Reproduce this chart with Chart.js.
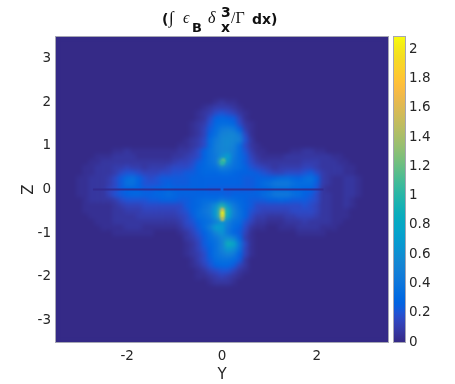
<!DOCTYPE html>
<html><head><meta charset="utf-8">
<script src="https://cdn.jsdelivr.net/npm/chart.js@4"></script>
<style>
html,body{margin:0;padding:0;background:#fff;width:455px;height:384px;overflow:hidden}
canvas{position:absolute;left:0;top:0}
#title{position:absolute;left:161px;top:9px;white-space:nowrap;color:#111;font:bold 14px "DejaVu Sans";line-height:20px}
#title span{position:absolute;top:0}
#title .m{font:italic 15px "Liberation Serif"}
#title .r{font:normal 15px "Liberation Serif"}
</style></head><body>
<canvas id="c1" width="455" height="384"></canvas>
<canvas id="c2" width="455" height="384"></canvas>
<div id="title"><span style="left:1px">(</span><span class="r" style="left:8px;font-size:17px;top:-1px">∫</span><span class="m" style="left:22px;font-size:16px">ϵ</span><span style="left:31px;top:9px;font-size:13px">B</span><span class="m" style="left:47px;font-size:16px">δ</span><span style="left:60px;top:-7px">3</span><span style="left:60px;top:8px">x</span><span class="r" style="left:70px;font-size:16px">/Γ</span><span style="left:91px">dx)</span></div>
<script>
const rangeY = [-3.5, 3.5];
const rangeZ = [-3.5, 3.5];
const colorMax = 2.083;
const tickY = [-2, 0, 2];
const tickZ = [-3, -2, -1, 0, 1, 2, 3];
const tickC = [0, 0.2, 0.4, 0.6, 0.8, 1, 1.2, 1.4, 1.6, 1.8, 2];
const firstY = -3, firstZ = 2.25, cell = 0.125;
// value × 100 per row (top to bottom); rowStart = index of first listed column
const rowStart = [0,0,22,20,20,19,19,19,18,18,17,6,3,0,0,0,0,0,0,0,0,0,0,0,0,0,0,17,18,18,18,18,19,19,20,21,0];
const rowVals = [
[],
[],
[1,3,5,4,2],
[1,3,6,9,11,9,6,3,1],
[3,6,11,17,20,18,14,7,3],
[1,4,8,18,26,30,28,22,12,4,1],
[2,5,10,20,30,34,34,30,18,7,2],
[3,7,12,22,34,42,46,44,28,11,3],
[1,4,8,14,28,38,50,54,54,44,15,4],
[2,5,9,16,32,44,52,56,54,50,20,5,1],
[2,4,7,11,18,34,46,54,56,48,34,16,6,2],
[3,4,5,4,3,2,2,2,2,2,3,5,7,10,16,28,38,46,52,54,46,32,20,10,4,2,1,0,0,0,2,4,5,5,4,3,1],
[2,3,4,5,6,6,5,4,4,3,3,3,4,5,7,9,12,16,26,36,44,58,72,42,32,22,13,7,4,3,3,4,5,6,7,8,8,7,6,5,4,3,1],
[0,1,3,4,5,6,6,6,8,7,6,5,5,5,6,8,10,12,14,17,24,30,36,42,110,62,40,32,24,17,11,7,5,5,6,8,8,8,10,10,9,7,6,5,4,3,1,0,0],
[0,2,4,5,6,7,9,11,13,11,9,8,9,10,11,13,15,16,18,20,26,30,34,38,48,44,38,32,26,21,17,13,9,8,9,10,11,11,13,14,11,8,6,5,5,4,3,0,0],
[1,3,4,5,6,8,11,15,20,20,16,12,12,14,16,18,20,21,22,23,27,29,31,31,32,32,30,28,25,25,23,19,15,13,14,15,16,16,20,23,18,9,5,5,5,4,4,1,0],
[2,4,5,5,7,10,16,24,34,36,26,19,18,20,22,23,24,24,24,25,27,27,27,27,27,27,27,25,23,23,25,26,27,29,32,34,30,26,32,36,26,11,5,4,4,5,5,2,0],
[2,4,5,5,7,11,17,24,36,36,28,21,20,21,23,26,24,24,24,25,27,27,26,26,27,26,26,26,24,24,28,32,38,42,42,42,38,32,34,34,24,9,5,4,4,5,5,2,0],
[2,4,5,5,7,12,17,22,26,27,27,24,24,26,27,29,27,26,26,26,27,27,24,24,24,23,24,24,24,24,26,28,31,33,33,33,31,29,28,26,19,8,4,4,4,5,5,2,0],
[2,4,5,5,8,13,19,24,27,31,29,28,28,30,31,33,31,27,27,27,27,28,26,26,26,24,26,26,27,26,28,32,38,42,44,44,38,32,27,24,17,8,5,4,4,5,5,2,0],
[1,4,5,5,6,8,11,15,19,21,21,21,23,24,25,25,25,23,24,27,30,32,32,34,40,36,33,30,27,24,24,24,26,28,29,27,23,22,22,21,16,8,5,4,4,5,4,1,0],
[0,3,4,4,4,4,6,10,12,14,14,15,17,18,18,18,18,18,22,27,31,36,42,60,95,62,42,33,28,22,18,17,17,17,17,17,18,18,20,18,14,8,5,4,4,5,3,0,0],
[0,2,3,4,4,3,5,8,10,11,11,12,14,14,14,14,14,16,20,27,34,40,46,70,130,85,48,36,26,20,15,13,13,13,13,13,15,17,18,16,12,7,5,4,4,3,1,0,0],
[0,1,2,3,4,4,5,6,7,8,9,9,9,9,9,10,10,12,18,24,32,38,42,65,130,80,46,36,25,17,11,9,8,8,8,10,11,13,14,12,9,6,5,4,4,2,0,0,0],
[0,0,1,3,4,4,5,5,6,6,6,6,5,5,5,6,6,9,15,21,27,34,38,46,62,48,38,34,21,13,7,5,4,4,4,5,7,8,9,8,6,6,5,4,3,1,0,0,0],
[0,0,0,0,2,3,4,4,5,5,5,4,3,3,3,3,3,5,12,18,24,32,46,72,68,44,32,28,17,8,3,2,1,1,2,3,4,5,5,5,5,4,3,2,1],
[0,0,0,0,0,1,2,2,3,3,2,2,2,1,1,1,1,2,7,14,21,28,38,52,64,40,30,24,12,4,1,0,0,0,0,0,1,2,3,3,3,2,1],
[1,5,10,18,24,32,40,52,60,50,30,11,2],
[3,7,14,22,30,38,48,90,78,40,15,3],
[3,6,12,20,28,38,48,66,60,38,14,3],
[2,5,11,18,27,36,44,48,42,28,12,2],
[1,4,9,15,24,32,38,38,32,22,8,1],
[3,7,13,20,26,30,30,22,13,5,1],
[1,4,8,14,18,20,19,14,8,3],
[2,4,8,11,12,11,8,4,1],
[1,3,5,6,5,3,1],
[]
];
// small hot spots, finer than the grid
const hotY = [0.01, 0.01, 0.01, 0.01, 0.03, 0.01];
const hotZ = [-0.47, -0.54, -0.61, -0.68, 0.67, 0.61];
const hotV = [1.6, 2.05, 1.95, 1.5, 1.15, 1.0];
// thin low-value midplane sheet
const midY = [-2.72, -0.03, null, 0.03, 2.14];
const midZ = [0, 0, null, 0, 0];
const parula = [[.2081,.1663,.5292],[.2116,.1898,.5777],[.2123,.2138,.627],[.2081,.2386,.6771],[.1959,.2645,.7279],[.1707,.2919,.7792],[.1253,.3242,.8303],[.0591,.3598,.8683],[.0117,.3875,.882],[.006,.4086,.8828],[.0165,.4266,.8786],[.0329,.443,.872],[.0498,.4586,.8641],[.0629,.4737,.8554],[.0723,.4887,.8467],[.0779,.504,.8384],[.0793,.52,.8312],[.0749,.5375,.8263],[.0641,.557,.824],[.0488,.5772,.8228],[.0343,.5966,.8199],[.0265,.6137,.8135],[.0239,.6287,.8038],[.0231,.6418,.7913],[.0228,.6535,.7768],[.0267,.6642,.7607],[.0384,.6743,.7436],[.059,.6838,.7254],[.0843,.6928,.7062],[.1133,.7015,.6859],[.1453,.7098,.6646],[.1801,.7177,.6424],[.2178,.725,.6193],[.2586,.7317,.5954],[.3022,.7376,.5712],[.3482,.7424,.5473],[.3953,.7459,.5244],[.442,.7481,.5033],[.4871,.7491,.484],[.53,.7491,.4661],[.5709,.7485,.4494],[.6099,.7473,.4337],[.6473,.7456,.4188],[.6834,.7435,.4044],[.7184,.7411,.3905],[.7525,.7384,.3768],[.7858,.7356,.3633],[.8185,.7327,.3498],[.8507,.7299,.336],[.8824,.7274,.3217],[.9139,.7258,.3063],[.945,.7261,.2886],[.9739,.7314,.2666],[.9938,.7455,.2403],[.999,.7653,.2164],[.9955,.7861,.1967],[.988,.8066,.1794],[.9789,.8271,.1633],[.9697,.8481,.1475],[.9626,.8705,.1309],[.9589,.8949,.1132],[.9598,.9218,.0948],[.9661,.9514,.0755],[.9763,.9831,.0538]];

const css = c => `rgb(${Math.round(c[0]*255)},${Math.round(c[1]*255)},${Math.round(c[2]*255)})`;
const colorOf = v => css(parula[Math.min(63, Math.round(v / colorMax * 63))]);
const cells = [], cellColors = [];
rowVals.forEach((vals, r) => vals.forEach((v, k) => {
  if (v <= 0) return;
  cells.push({x: firstY + (rowStart[r] + k) * cell, y: firstZ - r * cell});
  cellColors.push(colorOf(v / 100));
}));
const hotData = hotY.map((y, i) => ({x: y, y: hotZ[i]}));
const midData = midY.map((y, i) => y === null ? {x: null, y: null} : {x: y, y: midZ[i]});

const TXT = '#262626', BOX = '#a6a6b4', FONT = '"DejaVu Sans"';
const frame = {
  id: 'frame',
  beforeDatasetsDraw(ch) {
    if (ch.canvas.id !== 'c1') return;
    const a = ch.chartArea, c = ch.ctx;
    c.save(); c.fillStyle = css(parula[0]); c.fillRect(a.left, a.top, a.width, a.height); c.restore();
  },
  beforeDatasetDraw(ch, args) {
    if (ch.canvas.id !== 'c1' || args.index !== 2) return;
    const c = ch.ctx, a = ch.chartArea;
    c.save(); c.beginPath(); c.rect(a.left, a.top, a.width, a.height); c.clip();
    c.filter = 'blur(0.9px)';
  },
  afterDatasetDraw(ch, args) {
    if (ch.canvas.id !== 'c1') return;
    const c = ch.ctx, a = ch.chartArea;
    if (args.index === 2) c.restore();
    if (args.index === 1) {           // soften the grid of cells, as the shaded original
      c.save(); c.beginPath(); c.rect(a.left, a.top, a.width, a.height); c.clip();
      c.filter = 'blur(2px)';
      c.drawImage(ch.canvas, 0, 0);
      c.restore();
    }
  },
  afterDatasetsDraw(ch) {
    const a = ch.chartArea, c = ch.ctx;
    c.save(); c.strokeStyle = BOX; c.lineWidth = 1;
    c.strokeRect(a.left - .5, a.top - .5, a.width + 1, a.height + 1); c.restore();
  }
};
Chart.register(frame);
const base = {responsive:false, animation:false, devicePixelRatio:1,
  plugins:{legend:{display:false}, tooltip:{enabled:false}, title:{display:false}}};
const fixTicks = arr => s => { s.ticks = arr.map(v => ({value:v})); };

new Chart(document.getElementById('c1'), {
  type:'scatter',
  data:{datasets:[
    {label:'midplane', data:midData, showLine:true, spanGaps:false, borderColor:'rgba(50,40,140,0.85)', borderWidth:1.8, pointRadius:0, order:0},
    {label:'heat', data:cells, pointStyle:'rect', pointRadius:4.4, pointBorderWidth:0, pointBackgroundColor:cellColors, order:2},
    {label:'hot', data:hotData, pointStyle:'rect', pointRadius:2.4, pointBorderWidth:0, pointBackgroundColor:hotV.map(colorOf), order:1}
  ]},
  options:{...base,
    layout:{padding:{left:0, top:37, right:67, bottom:0}},
    scales:{
      x:{type:'linear', min:rangeY[0], max:rangeY[1], afterFit(s){s.height=42}, afterBuildTicks:fixTicks(tickY),
        grid:{display:false, drawTicks:false}, border:{display:false},
        ticks:{color:TXT, font:{family:FONT,size:13.5}, padding:6, maxRotation:0, callback:v=>String(v)},
        title:{display:true, text:'Y', color:TXT, font:{family:FONT,size:15}, padding:{top:0,bottom:0}}},
      y:{type:'linear', min:rangeZ[0], max:rangeZ[1], afterFit(s){s.width=56}, afterBuildTicks:fixTicks(tickZ),
        grid:{display:false, drawTicks:false}, border:{display:false},
        ticks:{color:TXT, font:{family:FONT,size:13.5}, padding:5, callback:v=>String(v)},
        title:{display:true, text:'Z', color:TXT, font:{family:FONT,size:15}, padding:{top:20,bottom:0}}}
    }}
});

new Chart(document.getElementById('c2'), {
  type:'bar',
  data:{labels:['c'], datasets:[{label:'colorbar', data:[[0,colorMax]], categoryPercentage:1, barPercentage:1, borderWidth:0,
    backgroundColor(ctx){
      const a = ctx.chart.chartArea; if (!a) return css(parula[0]);
      const g = ctx.chart.ctx.createLinearGradient(0, a.bottom, 0, a.top);
      parula.forEach((c,i)=>g.addColorStop(i/63, css(c)));
      return g;
    }}]},
  options:{...base,
    layout:{padding:{left:394, top:37, right:0, bottom:42}},
    scales:{
      x:{display:false},
      y:{type:'linear', position:'right', min:0, max:colorMax, afterFit(s){s.width=50}, afterBuildTicks:fixTicks(tickC),
        grid:{display:false, drawTicks:false}, border:{display:false},
        ticks:{color:TXT, font:{family:FONT,size:13.5}, padding:4, callback:v=>String(v)}}
    }}
});
</script>
</body></html>
